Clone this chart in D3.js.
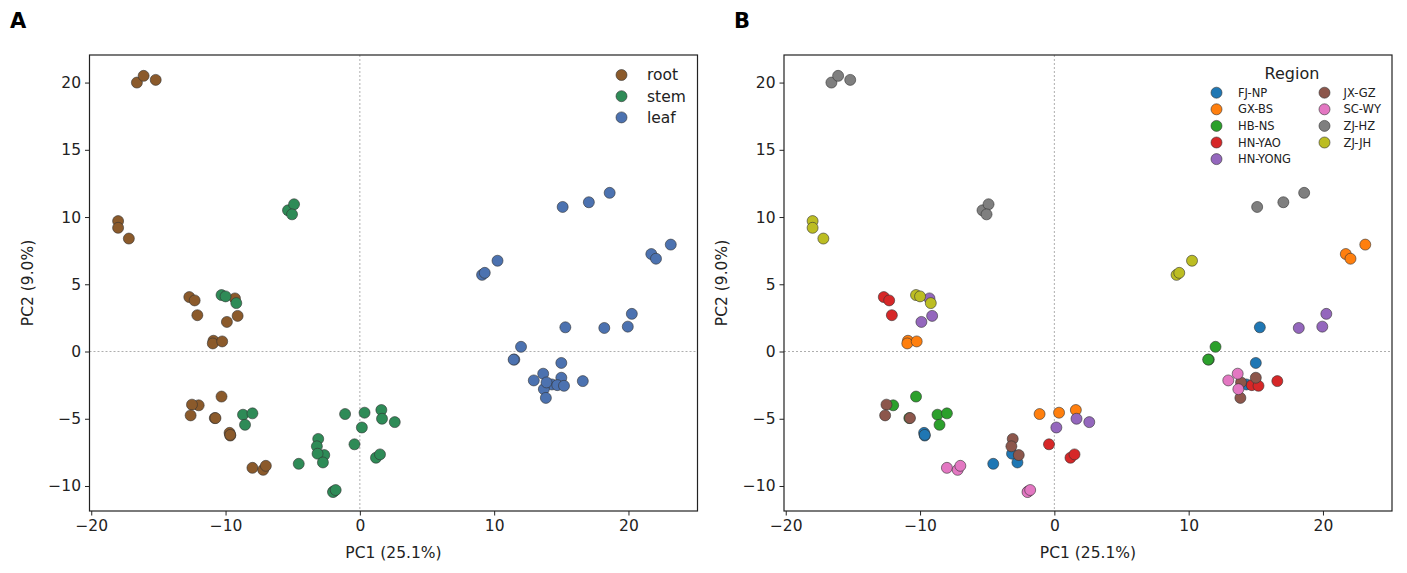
<!DOCTYPE html>
<html>
<head>
<meta charset="utf-8">
<script src="https://cdn.jsdelivr.net/npm/d3@7"></script>
<style>
  html, body { margin: 0; padding: 0; background: #fff; }
  svg { display: block; font-family: "DejaVu Sans", sans-serif; }
</style>
</head>
<body>
<svg id="chart" width="1407" height="573"></svg>
<script>
// ---------------- data ----------------
const tissues = ["root", "stem", "leaf"];
const tissueColors = ["#8B5A2B", "#2E8B57", "#4C72B0"];
const regions = ["FJ-NP", "GX-BS", "HB-NS", "HN-YAO", "HN-YONG", "JX-GZ", "SC-WY", "ZJ-HZ", "ZJ-JH"];
const regionColors = ["#1f77b4", "#ff7f0e", "#2ca02c", "#d62728", "#9467bd", "#8c564b", "#e377c2", "#7f7f7f", "#bcbd22"];
const xTicks = [-20, -10, 0, 10, 20];
const yTicks = [-10, -5, 0, 5, 10, 15, 20];
const xLabel = "PC1 (25.1%)";
const yLabel = "PC2 (9.0%)";

// [PC1, PC2, region]
const rootPoints = [
  [-16.6, 20.0, "ZJ-HZ"], [-16.1, 20.5, "ZJ-HZ"], [-15.2, 20.2, "ZJ-HZ"],
  [-18.0, 9.7, "ZJ-JH"], [-18.0, 9.2, "ZJ-JH"], [-17.2, 8.4, "ZJ-JH"],
  [-12.7, 4.05, "HN-YAO"], [-12.3, 3.8, "HN-YAO"], [-12.1, 2.7, "HN-YAO"],
  [-9.3, 3.95, "HN-YONG"], [-9.9, 2.2, "HN-YONG"], [-9.1, 2.65, "HN-YONG"],
  [-10.9, 0.8, "GX-BS"], [-10.95, 0.6, "GX-BS"], [-10.25, 0.75, "GX-BS"],
  [-10.3, -3.35, "HB-NS"], [-12.0, -4.0, "HB-NS"], [-10.8, -4.95, "HB-NS"],
  [-12.5, -3.95, "JX-GZ"], [-12.6, -4.75, "JX-GZ"], [-10.75, -4.95, "JX-GZ"],
  [-9.7, -6.05, "FJ-NP"], [-9.65, -6.25, "FJ-NP"], [-9.65, -6.2, "FJ-NP"],
  [-8.0, -8.65, "SC-WY"], [-7.2, -8.8, "SC-WY"], [-7.0, -8.5, "SC-WY"]
];
const stemPoints = [
  [-5.35, 10.5, "ZJ-HZ"], [-4.9, 10.95, "ZJ-HZ"], [-5.05, 10.2, "ZJ-HZ"],
  [-10.3, 4.2, "ZJ-JH"], [-10.0, 4.1, "ZJ-JH"], [-9.2, 3.6, "ZJ-JH"],
  [-8.7, -4.7, "HB-NS"], [-8.0, -4.6, "HB-NS"], [-8.55, -5.45, "HB-NS"],
  [-3.1, -6.5, "JX-GZ"], [-3.2, -7.05, "JX-GZ"], [-2.65, -7.7, "JX-GZ"],
  [-3.15, -7.6, "FJ-NP"], [-2.75, -8.25, "FJ-NP"], [-4.55, -8.35, "FJ-NP"],
  [-1.95, -10.4, "SC-WY"], [-2.0, -10.45, "SC-WY"], [-1.8, -10.3, "SC-WY"],
  [-1.1, -4.65, "GX-BS"], [0.35, -4.55, "GX-BS"], [1.6, -4.35, "GX-BS"],
  [0.15, -5.65, "HN-YONG"], [1.65, -5.0, "HN-YONG"], [2.6, -5.25, "HN-YONG"],
  [-0.4, -6.9, "HN-YAO"], [1.2, -7.9, "HN-YAO"], [1.5, -7.65, "HN-YAO"]
];
const leafPoints = [
  [15.1, 10.75, "ZJ-HZ"], [17.05, 11.1, "ZJ-HZ"], [18.6, 11.8, "ZJ-HZ"],
  [23.15, 7.95, "GX-BS"], [21.7, 7.25, "GX-BS"], [22.05, 6.9, "GX-BS"],
  [10.25, 6.75, "ZJ-JH"], [9.1, 5.7, "ZJ-JH"], [9.3, 5.85, "ZJ-JH"],
  [20.25, 2.8, "HN-YONG"], [19.95, 1.85, "HN-YONG"], [18.2, 1.75, "HN-YONG"],
  [15.3, 1.8, "FJ-NP"], [15.0, -0.85, "FJ-NP"], [14.3, -2.45, "FJ-NP"],
  [12.0, 0.35, "HB-NS"], [11.5, -0.6, "HB-NS"], [11.45, -0.6, "HB-NS"],
  [13.65, -1.65, "SC-WY"], [12.95, -2.15, "SC-WY"], [13.7, -2.8, "SC-WY"],
  [13.9, -2.3, "JX-GZ"], [15.0, -1.95, "JX-GZ"], [13.85, -3.45, "JX-GZ"],
  [14.7, -2.5, "HN-YAO"], [15.2, -2.55, "HN-YAO"], [16.6, -2.2, "HN-YAO"]
];

// ---------------- layout ----------------
const svg = d3.select("#chart");
const panels = [
  { key: "A", left: 89.5, letterX: 10 },
  { key: "B", left: 784, letterX: 734 }
];
const plotW = 608, plotTop = 55, plotBottom = 511;
const xDomain = [-20.13, 25.14], yDomain = [-11.86, 22.05];

const allPoints = [];
[rootPoints, stemPoints, leafPoints].forEach((arr, ti) => arr.forEach(p => allPoints.push({ pc1: p[0], pc2: p[1], region: p[2], tissue: tissues[ti] })));

const fmt = d => String(d).replace("-", "\u2212");

panels.forEach((pn, pi) => {
  const x = d3.scaleLinear().domain(xDomain).range([pn.left, pn.left + plotW]);
  const y = d3.scaleLinear().domain(yDomain).range([plotBottom, plotTop]);
  const g = svg.append("g");

  // panel letter
  svg.append("text").attr("x", pn.letterX).attr("y", 28)
    .attr("font-size", 21).attr("font-weight", "bold").attr("fill", "#000").text(pn.key);

  // zero lines
  g.append("line").attr("x1", x(0)).attr("x2", x(0)).attr("y1", plotTop).attr("y2", plotBottom)
    .attr("stroke", "#999").attr("stroke-width", 0.8).attr("stroke-dasharray", "2,2");
  g.append("line").attr("x1", pn.left).attr("x2", pn.left + plotW).attr("y1", y(0)).attr("y2", y(0))
    .attr("stroke", "#999").attr("stroke-width", 0.8).attr("stroke-dasharray", "2,2");

  // points
  let pts;
  if (pi === 0) {
    pts = tissues.flatMap(t => allPoints.filter(d => d.tissue === t));
  } else {
    pts = regions.flatMap(r => allPoints.filter(d => d.region === r));
  }
  g.selectAll("circle.pt").data(pts).enter().append("circle").attr("class", "pt")
    .attr("cx", d => x(d.pc1)).attr("cy", d => y(d.pc2)).attr("r", 5.5)
    .attr("fill", d => pi === 0 ? tissueColors[tissues.indexOf(d.tissue)] : regionColors[regions.indexOf(d.region)])
    .attr("stroke", "#333").attr("stroke-width", 0.6);

  // axes
  const xa = g.append("g").attr("transform", `translate(0,${plotBottom})`)
    .call(d3.axisBottom(x).tickValues(xTicks).tickSize(4.5).tickPadding(4).tickFormat(fmt));
  const ya = g.append("g").attr("transform", `translate(${pn.left},0)`)
    .call(d3.axisLeft(y).tickValues(yTicks).tickSize(4.5).tickPadding(4).tickFormat(fmt));
  [xa, ya].forEach(a => {
    a.select(".domain").remove();
    a.selectAll("text").attr("font-size", 15.5).attr("fill", "#222").attr("font-family", "DejaVu Sans, sans-serif");
    a.selectAll("line").attr("stroke", "#222").attr("stroke-width", 1);
  });

  // frame
  g.append("rect").attr("x", pn.left).attr("y", plotTop).attr("width", plotW).attr("height", plotBottom - plotTop)
    .attr("fill", "none").attr("stroke", "#222").attr("stroke-width", 1.2);

  // axis labels
  g.append("text").attr("x", pn.left + plotW / 2).attr("y", 558).attr("text-anchor", "middle")
    .attr("font-size", 15.5).attr("fill", "#222").text(xLabel);
  g.append("text").attr("transform", `translate(${pn.left - 57},${(plotTop + plotBottom) / 2}) rotate(-90)`)
    .attr("text-anchor", "middle").attr("font-size", 15.5).attr("fill", "#222").text(yLabel);

  // legends
  if (pi === 0) {
    const lg = g.append("g");
    tissues.forEach((t, i) => {
      const yy = 75 + i * 21.2;
      lg.append("circle").attr("cx", 621.5).attr("cy", yy).attr("r", 5.5)
        .attr("fill", tissueColors[i]).attr("stroke", "#333").attr("stroke-width", 0.6);
      lg.append("text").attr("x", 647).attr("y", yy).attr("dy", "0.35em")
        .attr("font-size", 15.5).attr("fill", "#222").text(t);
    });
  } else {
    const lg = g.append("g");
    lg.append("text").attr("x", 1292).attr("y", 73).attr("dy", "0.35em").attr("text-anchor", "middle")
      .attr("font-size", 16).attr("fill", "#222").text("Region");
    regions.forEach((r, i) => {
      const col = Math.floor(i / 5), row = i % 5;
      const yy = 92.7 + row * 16.6;
      const mx = col === 0 ? 1216.5 : 1324.5;
      const tx = col === 0 ? 1238 : 1343.5;
      lg.append("circle").attr("cx", mx).attr("cy", yy).attr("r", 5.5)
        .attr("fill", regionColors[i]).attr("stroke", "#333").attr("stroke-width", 0.6);
      lg.append("text").attr("x", tx).attr("y", yy).attr("dy", "0.35em")
        .attr("font-size", 11.5).attr("fill", "#222").text(r);
    });
  }
});
</script>
</body>
</html>
